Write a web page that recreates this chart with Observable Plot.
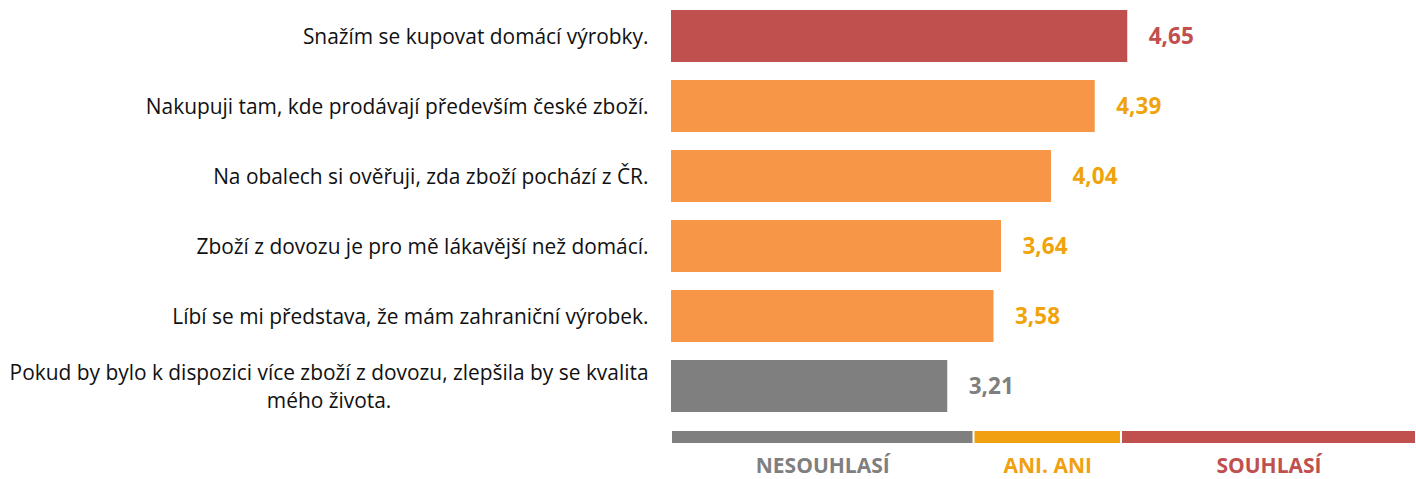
<!DOCTYPE html>
<html>
<head>
<meta charset="utf-8">
<script src="https://cdn.jsdelivr.net/npm/d3@7"></script>
<script src="https://cdn.jsdelivr.net/npm/@observablehq/plot@0.6"></script>
<style>
  html, body { margin: 0; padding: 0; background: #fff; }
  #chart svg { display: block; }
</style>
</head>
<body>
<div id="chart"></div>
<script>
// ---- data ----
const categories = [
  "Snažím se kupovat domácí výrobky.",
  "Nakupuji tam, kde prodávají především české zboží.",
  "Na obalech si ověřuji, zda zboží pochází z ČR.",
  "Zboží z dovozu je pro mě lákavější než domácí.",
  "Líbí se mi představa, že mám zahraniční výrobek.",
  "Pokud by bylo k dispozici více zboží z dovozu, zlepšila by se kvalita\nmého života."
];
const values = [4.65, 4.39, 4.04, 3.64, 3.58, 3.21];

const legendLabels = ["NESOUHLASÍ", "ANI. ANI", "SOUHLASÍ"];
const legendStart = [1, 3.42, 4.6];
const legendEnd = [3.42, 4.6, 6.96];

const xMin = 1, xMax = 6.96;

// ---- styles ----
const barColors = ["#7F7F7F", "#F79646", "#C0504D"];
const valueColors = ["#7F7F7F", "#F0A30A", "#C0504D"];
const legendColors = ["#7F7F7F", "#F0A010", "#C0504D"];
const font = "'Open Sans', sans-serif";

function groupOf(v) {
  let g = 0;
  for (let i = 0; i < legendStart.length; i++) if (v >= legendStart[i]) g = i;
  return g;
}

const rows = categories.map((c, i) => ({label: c, value: values[i], base: xMin, g: groupOf(values[i])}));
const legendRows = legendLabels.map((l, i) => ({label: l, x1: legendStart[i], x2: legendEnd[i], g: i}));

const mainPlot = Plot.plot({
  width: 1416,
  height: 420,
  marginLeft: 671,
  marginRight: 0,
  marginTop: 10,
  marginBottom: 7,
  style: {fontFamily: font, background: "#fff"},
  x: {domain: [xMin, xMax], axis: null},
  y: {domain: categories, axis: null, paddingInner: 0.257, paddingOuter: 0},
  marks: [
    Plot.barX(rows, {x1: "base", x2: "value", y: "label", fill: d => barColors[d.g]}),
    Plot.text(rows, {
      x: "value", y: "label",
      text: d => d.value.toFixed(2).replace(".", ","),
      textAnchor: "start", dx: 21,
      fill: d => valueColors[d.g],
      fontWeight: "bold", fontSize: 22.5
    }),
    Plot.text(rows, {
      y: "label", frameAnchor: "left",
      text: "label", textAnchor: "end", dx: -23, dy: -1,
      fill: "#111", fontSize: 20.9, lineHeight: 1.34
    })
  ]
});

const legendPlot = Plot.plot({
  width: 1416,
  height: 59,
  marginLeft: 671,
  marginRight: 0,
  marginTop: 11,
  marginBottom: 36,
  style: {fontFamily: font, background: "#fff"},
  x: {domain: [xMin, xMax], axis: null},
  marks: [
    Plot.barX(legendRows, {x1: "x1", x2: "x2", fill: d => legendColors[d.g], insetLeft: 1, insetRight: 1}),
    Plot.text(legendRows, {
      x: d => (d.x1 + d.x2) / 2, frameAnchor: "bottom", dy: 29,
      text: "label", fill: d => legendColors[d.g],
      fontWeight: "bold", fontSize: 21
    })
  ]
});

const chart = document.getElementById("chart");
chart.appendChild(mainPlot);
chart.appendChild(legendPlot);

// center multi-line category labels within their right-aligned box
mainPlot.querySelectorAll("text").forEach(t => {
  const spans = t.querySelectorAll("tspan");
  if (spans.length > 1) {
    const w = t.getBBox().width;
    t.setAttribute("text-anchor", "middle");
    spans.forEach(s => s.setAttribute("x", -w / 2));
  }
});
</script>
</body>
</html>
